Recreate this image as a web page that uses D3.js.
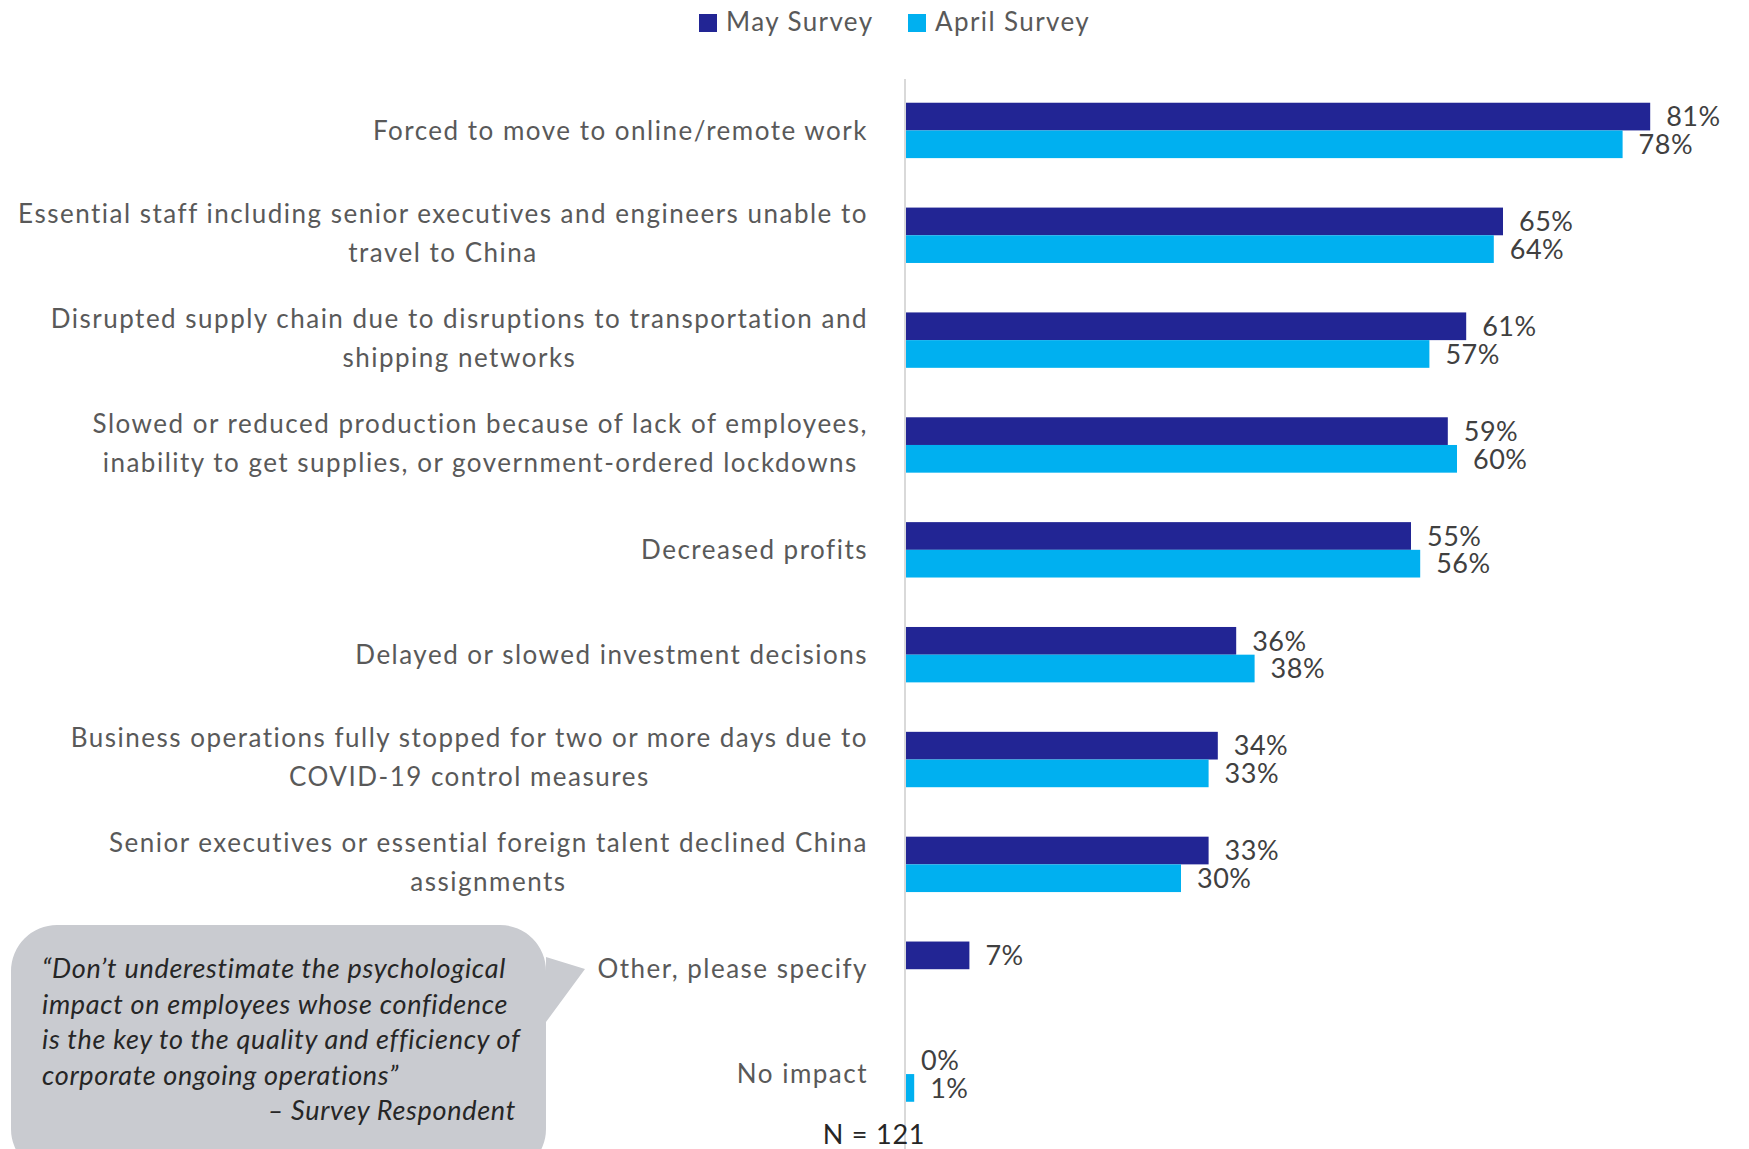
<!DOCTYPE html>
<html><head><meta charset="utf-8">
<script src="https://cdn.jsdelivr.net/npm/d3@7"></script>
<style>
html,body{margin:0;padding:0;background:#fff;}
svg{display:block;}
</style></head>
<body>
<svg id="chart" width="1749" height="1149"></svg>
<script>
const categories = [
  ["Forced to move to online/remote work"],
  ["Essential staff including senior executives and engineers unable to", "travel to China"],
  ["Disrupted supply chain due to disruptions to transportation and", "shipping networks"],
  ["Slowed or reduced production because of lack of employees,", "inability to get supplies, or government-ordered lockdowns"],
  ["Decreased profits"],
  ["Delayed or slowed investment decisions"],
  ["Business operations fully stopped for two or more days due to", "COVID-19 control measures"],
  ["Senior executives or essential foreign talent declined China", "assignments"],
  ["Other, please specify"],
  ["No impact"]
];
const seriesNames = ["May Survey", "April Survey"];
const mayValues = [81, 65, 61, 59, 55, 36, 34, 33, 7, 0];
const aprilValues = [78, 64, 57, 60, 56, 38, 33, 30, null, 1];
const quoteLines = [
  "\u201CDon\u2019t underestimate the psychological",
  "impact on employees whose confidence",
  "is the key to the quality and efficiency of",
  "corporate ongoing operations\u201D"
];
const quoteAuthor = "\u2013 Survey Respondent";
const sampleNote = "N = 121";

const colors = ["#222594", "#00B0F0"];
const FONT = "Lato, 'Open Sans', sans-serif";

const svg = d3.select("#chart");
const idx = d3.range(categories.length);

const x = d3.scaleLinear().domain([0, 90]).range([905, 905 + 828]);
const y = d3.scaleBand().domain(idx).range([78, 1126.5]).paddingInner(0).paddingOuter(0);
const ys = d3.scaleBand().domain(seriesNames).range([0, y.bandwidth()]).paddingInner(0).paddingOuter(0.893);

const data = idx.map(i => ({i, vals: [mayValues[i], aprilValues[i]]}));

// callout bubble
const bx0 = 11, bx1 = 546, by0 = 925, by1 = 1175, r = 46;
const tipX = 585, tipY = 969, baseT = 957, baseB = 1022;
const bubble = d3.path();
bubble.moveTo(bx0 + r, by0);
bubble.lineTo(bx1 - r, by0);
bubble.arcTo(bx1, by0, bx1, by0 + r, r);
bubble.lineTo(bx1, baseT);
bubble.lineTo(tipX, tipY);
bubble.lineTo(bx1, baseB);
bubble.lineTo(bx1, by1 - r);
bubble.arcTo(bx1, by1, bx1 - r, by1, r);
bubble.lineTo(bx0 + r, by1);
bubble.arcTo(bx0, by1, bx0, by1 - r, r);
bubble.lineTo(bx0, by0 + r);
bubble.arcTo(bx0, by0, bx0 + r, by0, r);
bubble.closePath();
svg.append("path").attr("d", bubble.toString()).attr("fill", "#C9CBD0");

const qg = svg.append("g").attr("font-family", FONT).attr("font-style", "italic")
  .attr("font-size", 27).attr("letter-spacing", 0.7).attr("fill", "#262626");
quoteLines.forEach((t, k) => {
  qg.append("text").attr("x", 42).attr("y", 969 + k * 35.5).attr("dy", "0.35em").text(t);
});
qg.append("text").attr("x", 516).attr("y", 969 + 4 * 35.5).attr("dy", "0.35em")
  .attr("text-anchor", "end").text(quoteAuthor);

// axis line
svg.append("line").attr("x1", x(0)).attr("x2", x(0)).attr("y1", 79).attr("y2", 1149)
  .attr("stroke", "#D9D9D9").attr("stroke-width", 2);

// bars
const groups = svg.append("g").selectAll("g").data(data).join("g")
  .attr("transform", d => `translate(0,${y(d.i)})`);
groups.selectAll("rect").data(d => d.vals.map((v, s) => ({v, s})).filter(e => e.v !== null))
  .join("rect")
  .attr("x", x(0) + 1)
  .attr("y", e => ys(seriesNames[e.s]))
  .attr("width", e => Math.max(0, x(e.v) - x(0) - 1))
  .attr("height", ys.bandwidth())
  .attr("fill", e => colors[e.s]);
groups.selectAll("text.val").data(d => d.vals.map((v, s) => ({v, s})).filter(e => e.v !== null))
  .join("text").attr("class", "val")
  .attr("x", e => x(e.v) + 16)
  .attr("y", e => ys(seriesNames[e.s]) + ys.bandwidth() / 2)
  .attr("dy", "0.36em")
  .attr("font-family", FONT).attr("font-size", 27).attr("letter-spacing", 0.5).attr("fill", "#404040")
  .text(e => e.v + "%");

// category labels
const labelRight = 868;
const lg = svg.append("g").attr("font-family", FONT).attr("font-size", 26)
  .attr("letter-spacing", 1.5).attr("fill", "#595959");
data.forEach(d => {
  const lines = categories[d.i];
  const cy = y(d.i) + y.bandwidth() / 2;
  const g = lg.append("g");
  const n = lines.length;
  const texts = lines.map((t, k) => g.append("text")
    .attr("y", cy + (k - (n - 1) / 2) * 39 - (n > 1 ? 2 : 0))
    .attr("dy", "0.35em").attr("text-anchor", "middle").text(t));
  const maxW = d3.max(texts, t => t.node().getComputedTextLength());
  texts.forEach(t => t.attr("x", labelRight - maxW / 2));
});

// legend
const leg = svg.append("g").attr("font-family", FONT).attr("font-size", 26)
  .attr("letter-spacing", 1.4).attr("fill", "#595959");
const legX = [699, 908];
seriesNames.forEach((name, s) => {
  leg.append("rect").attr("x", legX[s]).attr("y", 14).attr("width", 18).attr("height", 18).attr("fill", colors[s]);
  leg.append("text").attr("x", legX[s] + 27).attr("y", 22).attr("dy", "0.35em").text(name);
});

// N note
svg.append("text").attr("x", 874).attr("y", 1135).attr("dy", "0.35em")
  .attr("text-anchor", "middle").attr("font-family", FONT).attr("font-size", 27)
  .attr("letter-spacing", 0.8).attr("fill", "#262626").text(sampleNote);
</script>
</body></html>
